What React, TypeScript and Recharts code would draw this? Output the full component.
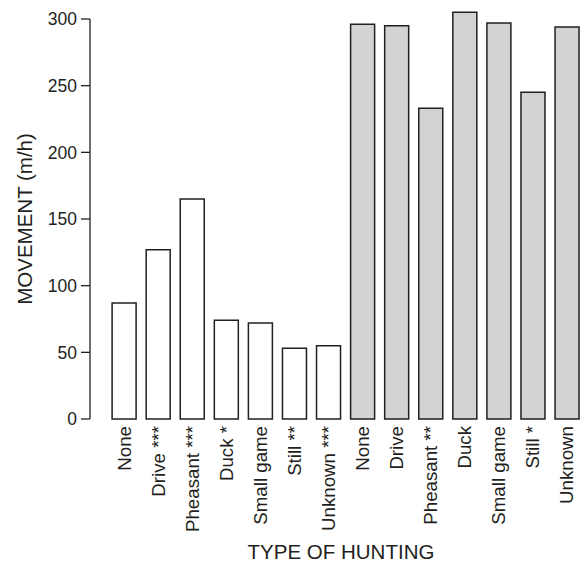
import { BarChart, Bar, XAxis, YAxis, Cell, Label } from 'recharts'

// movement rate per hunting type, two groups (white vs grey bars)
const labelsA = ['None', 'Drive ***', 'Pheasant ***', 'Duck *', 'Small game', 'Still **', 'Unknown ***']
const valuesA = [87, 127, 165, 74, 72, 53, 55]
const labelsB = ['None', 'Drive', 'Pheasant **', 'Duck', 'Small game', 'Still *', 'Unknown']
const valuesB = [296, 295, 233, 305, 297, 245, 294]
const yTicks = [0, 50, 100, 150, 200, 250, 300]

const FILL_A = '#ffffff'
const FILL_B = '#d1d3d4'
const INK = '#231f20'
const FONT = '"Liberation Sans", Arial, Helvetica, sans-serif'

const data = [
  ...labelsA.map((label, i) => ({ key: `a${i}`, label, value: valuesA[i], group: 'a' })),
  ...labelsB.map((label, i) => ({ key: `b${i}`, label, value: valuesB[i], group: 'b' })),
]

function CategoryTick(props: any) {
  const { x, y, payload } = props
  const row = data.find(d => d.key === payload.value)
  return (
    <text
      x={x}
      y={y}
      dy="0.35em"
      transform={`rotate(-90, ${x}, ${y})`}
      textAnchor="end"
      fontSize={18.7}
      fontFamily={FONT}
      fill={INK}
    >
      {row ? row.label : ''}
    </text>
  )
}

function YTitle(props: any) {
  const { viewBox } = props
  const x = viewBox.x + 32
  const y = viewBox.y + viewBox.height / 2
  return (
    <text x={x} y={y} transform={`rotate(-90, ${x}, ${y})`} textAnchor="middle"
      fontSize={20.5} fontFamily={FONT} fill={INK}>
      MOVEMENT (m/h)
    </text>
  )
}

function XTitle(props: any) {
  const { viewBox } = props
  return (
    <text x={viewBox.x + viewBox.width / 2 + 4} y={viewBox.y + viewBox.height - 6} textAnchor="middle"
      fontSize={20.5} fontFamily={FONT} fill={INK}>
      TYPE OF HUNTING
    </text>
  )
}

export default function App() {
  return (
    <div>
      <style>{`body{margin:0} .recharts-surface g[clip-path]{clip-path:none !important}`}</style>
      <BarChart
        width={586}
        height={565}
        data={data}
        margin={{ top: 19, right: 2, bottom: 0, left: 0 }}
        barCategoryGap="15%"
      >
        <XAxis
          dataKey="key"
          height={146}
          axisLine={false}
          tickLine={false}
          tickSize={0}
          tickMargin={7}
          interval={0}
          padding={{ left: 17, right: 0 }}
          tick={<CategoryTick />}
        >
          <Label content={<XTitle />} />
        </XAxis>
        <YAxis
          width={90}
          domain={[0, 300]}
          ticks={yTicks}
          allowDataOverflow
          axisLine={{ stroke: INK, strokeWidth: 1.3 }}
          tickLine={{ stroke: INK, strokeWidth: 1.3 }}
          tickSize={9}
          tickMargin={4}
          tick={{ fill: INK, fontSize: 17.5, fontFamily: FONT }}
        >
          <Label content={<YTitle />} />
        </YAxis>
        <Bar dataKey="value" stroke={INK} strokeWidth={1.5} isAnimationActive={false}>
          {data.map(d => (
            <Cell key={d.key} fill={d.group === 'a' ? FILL_A : FILL_B} />
          ))}
        </Bar>
      </BarChart>
    </div>
  )
}
